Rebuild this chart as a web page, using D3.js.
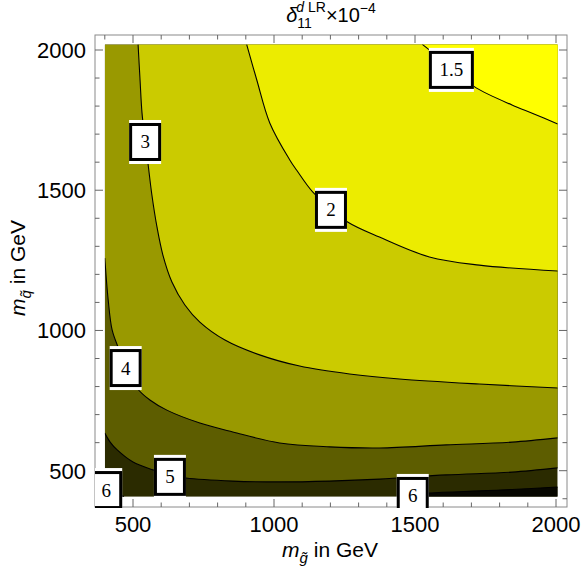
<!DOCTYPE html>
<html>
<head>
<meta charset="utf-8">
<script src="https://cdn.jsdelivr.net/npm/d3@7"></script>
<style>
body { margin: 0; background: #fff; }
text { font-family: "Liberation Sans", Arial, sans-serif; }
</style>
</head>
<body>
<svg width="581" height="581"></svg>
<script>
// contour levels of delta_11^dLR (in units of 1e-4)
const levels = [1.5, 2, 3, 4, 5, 6]
// band fills: >6, 5-6, 4-5, 3-4, 2-3, 1.5-2, <1.5
const bandColors = ['#070700', '#2b2b00', '#5d5d00', '#999900', '#cbcb00', '#ecec00', '#ffff00']

// contour lines, [m_gluino, m_squark] in GeV
const line15 = [[1526,2020],[1604,1957],[1657,1911],[1717,1865],[1844,1804],[1922,1772],[2006,1736]]
const line2 = [[903,2020],[939,1893],[985,1740],[1056,1608],[1080,1572],[1137,1494],[1201,1437],[1261,1387],[1374,1333],[1551,1262],[1728,1233],[2006,1212]]
const line3 = [[518,2020],[525,1893],[532,1775],[543,1679],[553,1597],[567,1483],[585,1369],[606,1269],[638,1173],[684,1091],[737,1030],[826,966],[949,913],[1091,873],[1268,845],[1445,827],[1728,809],[2006,795]]
const line4 = [[400,1258],[412,1109],[426,1002],[447,941],[479,866],[514,795],[560,752],[620,716],[737,670],[854,638],[1020,599],[1197,585],[1374,581],[1611,592],[1844,602],[2006,617]]
const line5 = [[400,634],[419,602],[444,574],[500,531],[571,503],[631,485],[688,474],[854,463],[1020,460],[1197,463],[1374,470],[1611,485],[1844,495],[2006,510]]
const line6a = [[400,474],[436,431],[468,407]]
const line6b = [[1462,407],[1551,420],[1728,428],[1844,433],[2006,442]]

// contour labels
const labelText = ['1.5', '2', '3', '4', '5', '6', '6']
const labelMg = [1629, 1202, 543, 474, 631, 405, 1492]
const labelMq = [1929, 1430, 1672, 866, 478, 431, 410]

// axes
const mgExtent = [400, 2006]
const mqExtent = [407, 2020]
const majorTicks = [500, 1000, 1500, 2000]
const minorTicks = d3.range(400, 2001, 100).filter(v => v % 500 !== 0)

const svg = d3.select('svg')

const frame = {left: 95, top: 35, size: 472}

let x = d3.scaleLinear().domain([500, 2000]).range([133, 556])
let y = d3.scaleLinear().domain([500, 2000]).range([470.7, 50])

svg.append('defs').append('clipPath').attr('id', 'plotClip')
    .append('rect')
    .attr('x', x(mgExtent[0])).attr('y', y(mqExtent[1]))
    .attr('width', x(mgExtent[1]) - x(mgExtent[0]))
    .attr('height', y(mqExtent[0]) - y(mqExtent[1]))

svg.select('defs').append('clipPath').attr('id', 'frameClip')
    .append('rect')
    .attr('x', frame.left).attr('y', frame.top)
    .attr('width', frame.size).attr('height', frame.size + 1)

let plot = svg.append('g').attr('clip-path', 'url(#plotClip)')

let line = d3.line()
    .x(d => x(d[0]))
    .y(d => y(d[1]))
    .curve(d3.curveCatmullRom.alpha(0.5))

const topRight = [[mgExtent[1], mqExtent[1]]]
const topBoth = [[mgExtent[1], mqExtent[1]], [mgExtent[0], mqExtent[1]]]

function area (pts, corners) {
    return line(pts) + corners.map(c => 'L' + x(c[0]) + ',' + y(c[1])).join('') + 'Z'
}

// base band 5-6
plot.append('rect')
    .attr('x', x(mgExtent[0])).attr('y', y(mqExtent[1]))
    .attr('width', x(mgExtent[1]) - x(mgExtent[0]))
    .attr('height', y(mqExtent[0]) - y(mqExtent[1]))
    .attr('fill', bandColors[1])

let regions = [
    {pts: line6a, corners: [[mgExtent[0], mqExtent[0]]], fill: bandColors[0]},
    {pts: line6b, corners: [[mgExtent[1], mqExtent[0]]], fill: bandColors[0]},
    {pts: line5, corners: topBoth, fill: bandColors[2]},
    {pts: line4, corners: topBoth, fill: bandColors[3]},
    {pts: line3, corners: topRight, fill: bandColors[4]},
    {pts: line2, corners: topRight, fill: bandColors[5]},
    {pts: line15, corners: topRight, fill: bandColors[6]},
]

plot.selectAll('path.band')
    .data(regions)
    .enter()
    .append('path')
    .attr('class', 'band')
    .attr('d', d => area(d.pts, d.corners))
    .attr('fill', d => d.fill)

plot.selectAll('path.contour')
    .data([line15, line2, line3, line4, line5, line6a, line6b])
    .enter()
    .append('path')
    .attr('class', 'contour')
    .attr('d', d => line(d))
    .attr('fill', 'none')
    .attr('stroke', '#000')
    .attr('stroke-width', 1.1)

// frame and ticks
svg.append('rect')
    .attr('x', frame.left).attr('y', frame.top)
    .attr('width', frame.size).attr('height', frame.size)
    .attr('fill', 'none')
    .attr('stroke', '#8a8a8a')
    .attr('stroke-width', 1)

let ticks = svg.append('g').attr('stroke', '#666').attr('stroke-width', 1)
const fb = frame.top + frame.size
const fr = frame.left + frame.size

function addTicks (vals, len) {
    vals.forEach(v => {
        ticks.append('line').attr('x1', x(v)).attr('x2', x(v)).attr('y1', fb).attr('y2', fb - len)
        ticks.append('line').attr('x1', x(v)).attr('x2', x(v)).attr('y1', frame.top).attr('y2', frame.top + len)
        ticks.append('line').attr('y1', y(v)).attr('y2', y(v)).attr('x1', frame.left).attr('x2', frame.left + len)
        ticks.append('line').attr('y1', y(v)).attr('y2', y(v)).attr('x1', fr).attr('x2', fr - len)
    })
}
addTicks(majorTicks, 8)
addTicks(minorTicks, 4.5)

svg.selectAll('text.xtick')
    .data(majorTicks)
    .enter()
    .append('text')
    .attr('class', 'xtick')
    .attr('x', d => x(d))
    .attr('y', 532)
    .attr('text-anchor', 'middle')
    .style('font-size', '22px')
    .text(d => d)

svg.selectAll('text.ytick')
    .data(majorTicks)
    .enter()
    .append('text')
    .attr('class', 'ytick')
    .attr('x', 86)
    .attr('y', d => y(d))
    .attr('dy', '0.36em')
    .attr('text-anchor', 'end')
    .style('font-size', '22px')
    .text(d => d)

// contour labels
let labels = svg.append('g').attr('clip-path', 'url(#frameClip)')
let lab = labels.selectAll('g.label')
    .data(labelText)
    .enter()
    .append('g')
    .attr('class', 'label')
    .attr('transform', (d, i) => 'translate(' + x(labelMg[i]) + ',' + y(labelMq[i]) + ')')

lab.append('rect')
    .attr('x', d => d.length > 1 ? -22.5 : -16)
    .attr('y', -22)
    .attr('width', d => d.length > 1 ? 45 : 32)
    .attr('height', 44)
    .attr('fill', '#fff')

lab.append('rect')
    .attr('x', d => (d.length > 1 ? -22.5 : -16) + 1.5)
    .attr('y', -17.5)
    .attr('width', d => (d.length > 1 ? 45 : 32) - 3)
    .attr('height', 35)
    .attr('fill', '#fff')
    .attr('stroke', '#000')
    .attr('stroke-width', 3)

lab.append('text')
    .attr('text-anchor', 'middle')
    .attr('y', 6.5)
    .style('font-family', '"Liberation Serif", "Times New Roman", serif')
    .style('font-size', '19px')
    .text(d => d)

// title
let title = svg.append('text')
    .attr('x', 331)
    .attr('y', 22)
    .attr('text-anchor', 'middle')
    .style('font-size', '20px')
title.append('tspan').attr('font-style', 'italic').text('δ')
title.append('tspan').attr('font-size', '14px').attr('dy', 6).text('11')
let sup = title.append('tspan').attr('font-size', '14px').attr('dx', -15.6).attr('dy', -16)
sup.append('tspan').attr('font-style', 'italic').text('d')
sup.append('tspan').text(' LR')
title.append('tspan').attr('dy', 10).text('×10')
title.append('tspan').attr('font-size', '14px').attr('dy', -9).text('−4')

// axis titles
let xlab = svg.append('text')
    .attr('x', 330)
    .attr('y', 557)
    .attr('text-anchor', 'middle')
    .style('font-size', '21px')
xlab.append('tspan').attr('font-style', 'italic').text('m')
xlab.append('tspan').attr('font-style', 'italic').attr('font-size', '15px').attr('dy', 6).text('g\u0303')
xlab.append('tspan').attr('dy', -6).text(' in GeV')

let ylab = svg.append('text')
    .attr('transform', 'translate(25,268) rotate(-90)')
    .attr('text-anchor', 'middle')
    .style('font-size', '21px')
ylab.append('tspan').attr('font-style', 'italic').text('m')
ylab.append('tspan').attr('font-style', 'italic').attr('font-size', '15px').attr('dy', 6).text('q\u0303')
ylab.append('tspan').attr('dy', -6).text(' in GeV')
</script>
</body>
</html>
